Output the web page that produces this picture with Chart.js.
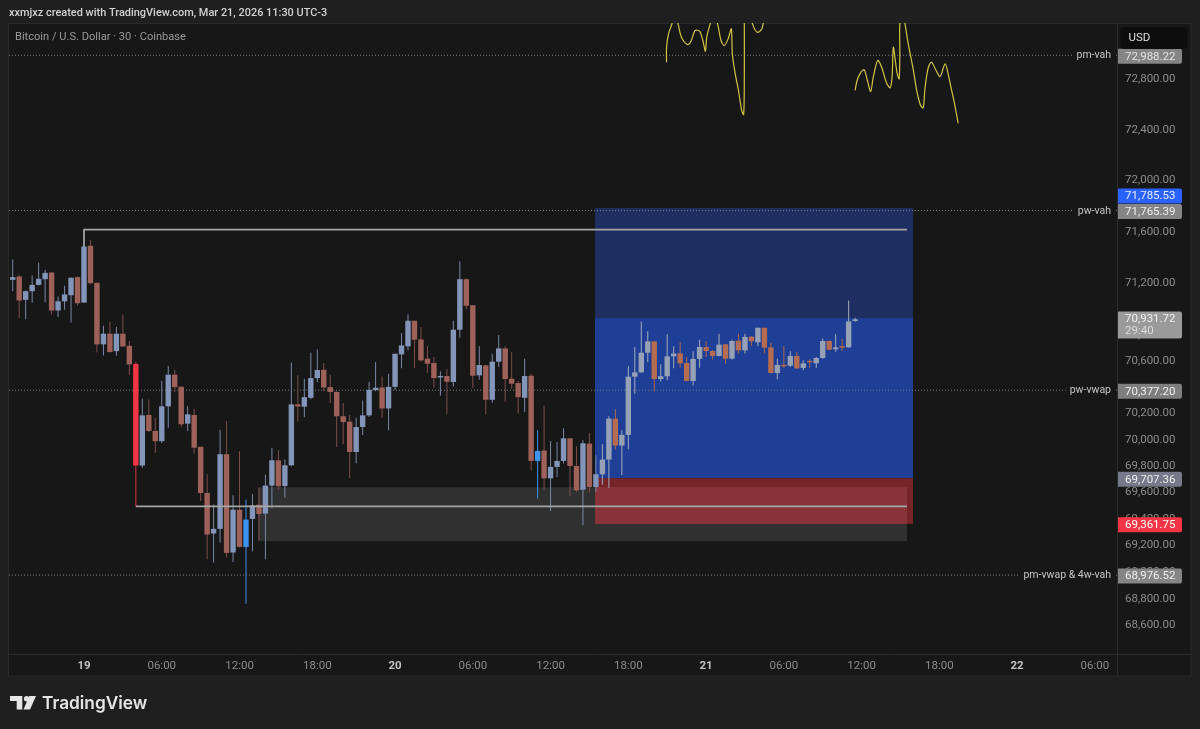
<!DOCTYPE html>
<html>
<head>
<meta charset="utf-8">
<style>html,body{margin:0;padding:0;background:#1f1f1f;overflow:hidden}canvas{display:block}</style>
<script src="https://cdn.jsdelivr.net/npm/chart.js@4"></script>
</head>
<body>
<canvas id="c" width="1200" height="729"></canvas>
<script>
const firstSlot = -11;
const opens = [71227,71253,71072,71139,71188,71232,71284,70990,71061,71108,71248,
71051,71491,71204,70729,70811,70677,70811,70718,70578,69803,
70188,70066,69988,70254,70496,70404,70122,70188,69945,69595,
69289,69324,69889,69146,69469,69188,69399,69506,69439,69651,
69843,69648,69805,70269,70251,70319,70470,70534,70401,70365,
70178,70137,69906,70096,70185,70378,70398,70238,70403,70652,
70714,70911,70767,70619,70586,70475,70486,70440,70842,71232,
71031,70491,70568,70304,70596,70698,70465,70432,70319,70488,
69838,69917,69706,69793,69838,70010,69800,69620,69970,69640,
69737,69848,70160,69955,70036,70481,70514,70665,70752,70463,
70484,70637,70660,70586,70448,70617,70709,70678,70640,70729,
70619,70757,70683,70788,70745,70857,70706,70509,70571,70565,
70640,70548,70596,70583,70624,70755,70691,70709,70706,70909];
const closes = [71248,71067,71139,71188,71235,71281,70990,71061,71114,71243,71046,
71486,71201,70729,70811,70670,70811,70713,70575,69803,70185,
70066,69988,70254,70496,70401,70117,70193,69939,69595,69281,
69324,69889,69143,69469,69188,69394,69501,69436,69651,69843,
69646,69805,70269,70253,70324,70470,70532,70398,70363,70178,
70134,69906,70096,70185,70380,70396,70238,70403,70657,70721,
70911,70765,70606,70580,70470,70481,70442,70842,71232,71026,
70488,70570,70304,70596,70698,70463,70427,70324,70486,69838,
69914,69706,69793,69838,70010,69800,69615,69972,69640,69737,
69848,70160,69955,70036,70481,70514,70665,70752,70463,70484,
70637,70658,70583,70448,70617,70709,70678,70640,70727,70619,
70755,70683,70786,70752,70857,70704,70509,70571,70560,70640,
70545,70583,70591,70624,70755,70688,70706,70704,70906,70922];
const highs = [71385,71266,71145,71261,71359,71305,71286,71098,71181,71245,71253,
71615,71537,71204,70872,70903,70862,70959,70754,70593,70311,
70306,70167,70450,70562,70534,70404,70254,70236,69945,69737,
69507,70076,70142,69577,69911,69544,69587,69635,69734,69939,
69919,69848,70590,70491,70465,70665,70690,70585,70496,70365,
70279,70188,70167,70299,70442,70593,70483,70503,70657,70816,
70959,70911,70862,70716,70632,70522,70539,70911,71369,71237,
71031,70714,70568,70657,70801,70714,70670,70447,70619,70504,
70071,70259,69990,69982,70086,70010,69950,69995,70051,69881,
69965,70178,70236,70071,70560,70709,70906,70829,70752,70576,
70806,70714,70745,70632,70676,70765,70755,70683,70811,70734,
70765,70811,70811,70793,70857,70857,70742,70619,70719,70676,
70673,70606,70614,70632,70775,70760,70806,70770,71067,70934];
const lows = [71139,70933,70923,71049,71183,71054,70959,70939,70995,70898,71028,
71051,71191,70667,70644,70667,70642,70708,70493,69494,69787,
70059,69901,69975,70091,70363,70097,70066,69894,69534,69095,
69070,69221,69108,69075,69183,68762,69156,69238,69095,69477,
69620,69559,69798,70139,70170,70309,70439,70370,70279,69944,
69965,69709,69820,70036,70172,70370,70167,70071,70378,70545,
70683,70545,70596,70509,70396,70335,70195,70406,70780,71000,
70396,70458,70193,70281,70555,70289,70388,70200,70210,69767,
69554,69615,69459,69717,69818,69570,69600,69351,69600,69603,
69658,69635,69924,69729,69927,70350,70509,70594,70368,70443,
70453,70545,70550,70445,70414,70550,70632,70612,70637,70581,
70612,70658,70658,70719,70714,70658,70504,70460,70548,70555,
70540,70530,70550,70548,70619,70683,70673,70678,70704,70903];

const highlightRed = [8];
const highlightBlue = [25, 70];
const zoneStartSlot = 80;

const priceTicks = [73000,72800,72400,72000,71600,71200,70800,70600,70200,70000,69800,69600,69400,69200,69000,68800,68600];
const timeTickSlots = [0,12,24,36,48,60,72,84,96,108,120,132,144,156];
const timeTickLabels = ['19','06:00','12:00','18:00','20','06:00','12:00','18:00','21','06:00','12:00','18:00','22','06:00'];
const dayLabels = ['19','20','21','22'];

const levelNames = ['pm-vah','pw-vah','pw-vwap','pm-vwap & 4w-vah'];
const levelPrices = [72988.22,71765.39,70377.20,68976.52];

const targetPrice = 71785.53, entryPrice = 69707.36, stopPrice = 69361.75, lastPrice = 70931.72;
const positionStartSlot = 78.86, positionEndSlot = 127.93;
const grayBoxStartSlot = 26.85, grayBoxEndSlot = 127, grayBoxTop = 69638, grayBoxBottom = 69231;
const swingHighXs = [0,0,127], swingHighYs = [71486,71617,71617];
const swingLowXs = [8,127], swingLowYs = [69494,69494];

const ink1Xs = [89.9,89.9,90.2,90.7,91.05,91.4,91.7,92.2,93.1,93.6,94.3,95.0,95.5,95.9,96.1,96.6,97.2,97.8,98.3,98.8,99.4,99.9,100.05,100.5,101.0,101.5,101.8,101.9,101.9,101.9,102.5,103.2,103.9,104.6,104.8,105.1];
const ink1Ys = [72933,73052,73158,73232,73290,73277,73232,73131,73073,73091,73184,73179,73105,73020,73131,73232,73303,73232,73105,73065,73118,73198,73000,72841,72709,72550,72519,72814,73237,73343,73369,73232,73171,73198,73237,73290];
const ink2Xs = [119.0,119.3,119.9,120.4,120.9,121.4,121.8,122.5,123.1,123.8,124.4,124.7,124.9,125.2,125.5,125.8,125.9,125.9,126.3,126.7,127.2,128.0,128.5,129.1,129.5,129.8,130.3,130.8,131.5,132.1,132.9,133.4,133.9,134.4,134.9];
const ink2Ys = [72709,72788,72854,72873,72788,72701,72814,72947,72893,72775,72730,72814,73052,72947,72841,72802,73026,73237,73343,73237,73079,72867,72709,72590,72572,72735,72893,72933,72867,72820,72920,72828,72709,72590,72450];

const FONT = 'Roboto, "Liberation Sans", sans-serif';
const LOGO_FONT = 'Inter, "Liberation Sans", sans-serif';
const slots = opens.map((_, i) => firstSlot + i);
const zip = (xs, ys) => xs.map((x, i) => ({x, y: ys[i]}));

function bodyColor(i) {
  const s = slots[i];
  if (highlightRed.includes(s)) return '#f23645';
  if (highlightBlue.includes(s)) return '#3d94f0';
  const up = closes[i] >= opens[i];
  if (s >= zoneStartSlot) return up ? '#97a1b5' : '#b56c50';
  return up ? '#8495ba' : '#9f625a';
}
function wickColor(i) {
  const s = slots[i];
  if (highlightRed.includes(s)) return '#d8333f';
  if (highlightBlue.includes(s)) return '#3d8ee6';
  const up = closes[i] >= opens[i];
  if (s >= zoneStartSlot) return up ? '#a3acbc' : '#a8694f';
  return up ? '#7889a6' : '#7d4f49';
}
function isDay(c) {
  if (!c || !c.tick) return false;
  return dayLabels.includes(timeTickLabels[timeTickSlots.indexOf(c.tick.value)]);
}

const SLOT_MIN = (9 - 84) / 6.48, SLOT_MAX = (1117 - 84) / 6.48;

const paint = {
  id: 'paint',
  beforeDraw(chart) {
    const {ctx, chartArea: a} = chart;
    ctx.save();
    ctx.fillStyle = '#1f1f1f';
    ctx.fillRect(0, 0, 1200, 729);
    ctx.fillStyle = '#171717';
    ctx.fillRect(a.left, a.top, 1191 - a.left, 676 - a.top);
    ctx.strokeStyle = '#2a2a2a';
    ctx.lineWidth = 1;
    ctx.strokeRect(8.5, 23.5, 1191 - 8.5, 676 - 23.5);
    ctx.beginPath();
    ctx.moveTo(1117.5, 23); ctx.lineTo(1117.5, 676);
    ctx.moveTo(8, 654.5); ctx.lineTo(1191, 654.5);
    ctx.strokeStyle = '#2c2c2c';
    ctx.stroke();
    ctx.restore();
  },
  beforeDatasetsDraw(chart) {
    const {ctx, scales: {x, y}} = chart;
    const box = (x0, x1, p0, p1, col) => {
      const l = x.getPixelForValue(x0), r = x.getPixelForValue(x1);
      const t = y.getPixelForValue(p0), b = y.getPixelForValue(p1);
      ctx.fillStyle = col;
      ctx.fillRect(l, t, r - l, b - t);
    };
    ctx.save();
    box(positionStartSlot, positionEndSlot, targetPrice, lastPrice, '#1f2e60');
    box(positionStartSlot, positionEndSlot, lastPrice, entryPrice, '#1f3e95');
    box(positionStartSlot, positionEndSlot, entryPrice, stopPrice, '#772428');
    box(grayBoxStartSlot, grayBoxEndSlot, grayBoxTop, grayBoxBottom, 'rgba(255,255,255,0.11)');
    box(positionStartSlot, grayBoxEndSlot, grayBoxTop, stopPrice, '#873339');
    ctx.restore();
  },
  afterDraw(chart) {
    const {ctx, scales: {y}} = chart;
    ctx.save();
    ctx.textBaseline = 'middle';

    // header
    ctx.textAlign = 'left';
    ctx.font = '500 10.95px ' + FONT;
    ctx.fillStyle = '#d2d2d2';
    ctx.fillText('xxmjxz created with TradingView.com, Mar 21, 2026 11:30 UTC-3', 9, 13.5);
    ctx.font = '400 11.1px ' + FONT;
    ctx.fillStyle = '#9a9a9a';
    ctx.fillText('Bitcoin / U.S. Dollar · 30 · Coinbase', 15, 37);

    // level names with a pane-coloured backing
    ctx.font = '400 10.5px ' + FONT;
    levelNames.forEach((name, i) => {
      const py = y.getPixelForValue(levelPrices[i]) + 0.5;
      const w = ctx.measureText(name).width;
      ctx.fillStyle = '#171717';
      ctx.fillRect(1111 - w - 4, py - 6, w + 7, 12);
      ctx.fillStyle = '#c4c4c4';
      ctx.textAlign = 'right';
      ctx.fillText(name, 1111, py);
    });

    // price labels
    const tag = (text, price, col, txt, dy, h) => {
      const py = y.getPixelForValue(price) + (dy || 0);
      ctx.fillStyle = col;
      ctx.beginPath();
      ctx.roundRect(1118, py - 7.5, 64, h || 15, [0, 2, 2, 0]);
      ctx.fill();
      ctx.fillStyle = txt;
      ctx.textAlign = 'left';
      ctx.font = '400 11.5px ' + FONT;
      ctx.fillText(text, 1125, py + 0.5);
    };
    tag('72,988.22', levelPrices[0], '#858585', '#e2e2e2', 1);
    tag('71,785.53', targetPrice, '#2962ff', '#e8eeff', -12);
    tag('71,765.39', levelPrices[1], '#858585', '#eeeeee', 1);
    tag('70,931.72', lastPrice, '#9a9a9a', '#f0f0f0', 1, 27);
    ctx.font = '400 11.5px ' + FONT;
    ctx.fillStyle = '#dcdcdc';
    ctx.fillText('29:40', 1125, y.getPixelForValue(lastPrice) + 13);
    tag('70,377.20', levelPrices[2], '#7e7e7e', '#eeeeee', 1);
    tag('69,707.36', entryPrice, '#75798a', '#eeeeee', 1);
    tag('69,361.75', stopPrice, '#f23645', '#ffffff', 1);
    tag('68,976.52', levelPrices[3], '#858585', '#f0f0f0', 1);

    // currency button
    ctx.fillStyle = '#0d0d0d';
    ctx.beginPath();
    ctx.roundRect(1120.5, 27, 67, 22, 4);
    ctx.fill();
    ctx.fillStyle = '#dedede';
    ctx.font = '400 11.5px ' + FONT;
    ctx.fillText('USD', 1128.5, 38.5);

    // TradingView wordmark
    ctx.fillStyle = '#e6e6e6';
    ctx.beginPath();
    ctx.moveTo(10, 696); ctx.lineTo(22.3, 696); ctx.lineTo(22.3, 709.5); ctx.lineTo(16.7, 709.5);
    ctx.lineTo(16.7, 701); ctx.lineTo(10, 701); ctx.closePath();
    ctx.moveTo(29.3, 696); ctx.lineTo(36, 696); ctx.lineTo(30, 709.5); ctx.lineTo(23.5, 709.5); ctx.closePath();
    ctx.fill();
    ctx.beginPath();
    ctx.arc(26.6, 698.7, 2.7, 0, Math.PI * 2);
    ctx.fill();
    ctx.font = '600 17.3px ' + LOGO_FONT;
    ctx.textAlign = 'left';
    ctx.fillText('TradingView', 42, 703.5);
    ctx.restore();
  }
};

new Chart(document.getElementById('c'), {
  type: 'bar',
  plugins: [paint],
  data: {
    datasets: [
      {type:'line', order:9, data: zip([SLOT_MIN,SLOT_MAX],[levelPrices[0],levelPrices[0]]), borderColor:'#7c7c7c', borderWidth:1, borderDash:[1,2], pointRadius:0},
      {type:'line', order:9, data: zip([SLOT_MIN,SLOT_MAX],[levelPrices[1],levelPrices[1]]), borderColor:'#7c7c7c', borderWidth:1, borderDash:[1,2], pointRadius:0},
      {type:'line', order:9, data: zip([SLOT_MIN,SLOT_MAX],[levelPrices[2],levelPrices[2]]), borderColor:'#7c7c7c', borderWidth:1, borderDash:[1,2], pointRadius:0},
      {type:'line', order:9, data: zip([SLOT_MIN,SLOT_MAX],[levelPrices[3],levelPrices[3]]), borderColor:'#7c7c7c', borderWidth:1, borderDash:[1,2], pointRadius:0},
      {type:'bar', order:8, barThickness:1, grouped:false, inflateAmount:0, data: slots.map((s,i)=>({x:s,y:[lows[i],highs[i]]})), backgroundColor: slots.map((_,i)=>wickColor(i)), borderWidth:0},
      {type:'bar', order:7, barThickness:5.4, grouped:false, inflateAmount:0, minBarLength:1.5, data: slots.map((s,i)=>({x:s,y:[opens[i],closes[i]]})), backgroundColor: slots.map((_,i)=>bodyColor(i)), borderWidth:0},
      {type:'line', order:5, data: zip(swingHighXs, swingHighYs), borderColor:'#a6a6a6', borderWidth:1.6, pointRadius:0, tension:0},
      {type:'line', order:5, data: zip(swingLowXs, swingLowYs), borderColor:'#a6a6a6', borderWidth:1.6, pointRadius:0, tension:0},
      {type:'line', order:4, data: zip(ink1Xs, ink1Ys), borderColor:'#d3c544', borderWidth:1.2, pointRadius:0, tension:0.3},
      {type:'line', order:4, data: zip(ink2Xs, ink2Ys), borderColor:'#d3c544', borderWidth:1.2, pointRadius:0, tension:0.3}
    ]
  },
  options: {
    responsive:false, animation:false, devicePixelRatio:1,
    layout:{padding:{left:9,top:23,right:9,bottom:53}},
    plugins:{legend:{display:false},tooltip:{enabled:false},title:{display:false}},
    scales:{
      x:{
        type:'linear', min:SLOT_MIN, max:SLOT_MAX, bounds:'data', offset:false,
        grid:{display:false, drawTicks:false}, border:{display:false},
        afterBuildTicks(s){ s.ticks = timeTickSlots.map(v=>({value:v})); },
        afterFit(s){ s.height = 22; },
        ticks:{
          autoSkip:false, maxRotation:0, padding:5,
          callback(v){ const i = timeTickSlots.indexOf(v); return i<0 ? '' : timeTickLabels[i]; },
          color(c){ return isDay(c) ? '#c2c2c2' : '#8c8c8c'; },
          font(c){ return isDay(c) ? {family:FONT,size:11.5,weight:'700'} : {family:FONT,size:11.5,weight:'400'}; }
        }
      },
      y:{
        type:'logarithmic', position:'right', min:68387, max:73244.6, bounds:'data',
        grid:{display:false, drawTicks:false}, border:{display:false},
        afterBuildTicks(s){ s.ticks = priceTicks.map(v=>({value:v})); },
        afterFit(s){ s.width = 74; },
        ticks:{
          autoSkip:false, padding:8, color:'#8c8c8c', font:{family:FONT,size:11.5},
          callback(v){ return Number(v).toLocaleString('en-US',{minimumFractionDigits:2,maximumFractionDigits:2}); }
        }
      }
    }
  }
});
</script>
</body>
</html>
